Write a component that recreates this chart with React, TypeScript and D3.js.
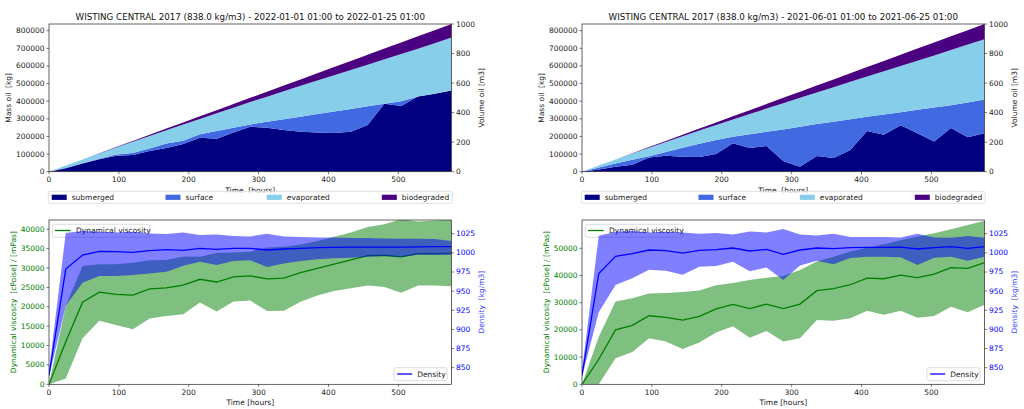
import React from "react";
import * as d3 from "d3";

const W = 1024;
const H = 409;
const FONT = "DejaVu Sans, sans-serif";

// time steps [hours]
const hours = [0, 24, 48, 72, 96, 120, 144, 168, 192, 216, 240, 264, 288, 312, 336, 360, 384, 408, 432, 456, 480, 504, 528, 552, 576];

// mass balance, January run [kg]
const janSubmerged = [0, 19000, 47000, 70000, 91000, 95000, 117000, 135000, 157000, 193000, 187000, 222000, 255000, 250000, 237000, 227000, 222000, 220000, 227000, 265000, 385000, 373000, 427000, 442000, 461000];
const janSurface = [0, 3000, 1000, 4000, 7000, 11000, 15000, 25000, 18000, 19000, 44000, 28000, 13000, 33000, 60000, 85000, 105000, 121000, 129000, 106000, 0, 27000, 0, 0, 0];
const janEvaporated = [0, 12700, 21100, 29300, 38700, 64100, 71000, 75400, 92300, 87300, 100200, 113100, 127000, 142900, 159800, 175800, 190700, 206600, 221500, 236400, 252300, 267300, 271200, 287100, 300000];
const janBiodegraded = [0, 200, 700, 1500, 3000, 4500, 6500, 9000, 12000, 15000, 18000, 21000, 24000, 28000, 32000, 36000, 41000, 46000, 51000, 56000, 61000, 66000, 70000, 74000, 77000];

// mass balance, June run [kg]
const junSubmerged = [0, 13000, 28000, 40000, 80000, 91000, 85000, 83000, 100000, 161000, 135000, 146000, 61000, 28000, 89000, 78000, 123000, 231000, 210000, 263000, 218000, 172000, 248000, 195000, 218000];
const junSurface = [0, 11000, 19000, 28000, 8000, 21000, 51000, 75000, 80000, 37000, 77000, 80000, 179000, 227000, 181000, 206000, 175000, 81000, 115000, 75000, 133000, 192000, 129000, 198000, 191000];
const junEvaporated = [0, 10600, 21800, 34800, 48200, 57100, 65500, 75400, 85300, 98300, 115200, 132100, 149000, 164900, 179800, 195800, 211700, 227600, 244500, 261400, 278300, 295300, 313200, 328100, 343000];
const junBiodegraded = [0, 300, 1000, 2000, 3500, 5500, 8000, 11000, 14000, 18000, 22000, 26000, 30000, 34000, 39000, 44000, 49000, 54000, 59000, 64000, 69000, 74000, 78000, 82000, 86000];

// viscosity [cPoise] and density [kg/m3], January run
const janViscMean = [0, 11000, 21200, 23800, 23200, 23000, 24600, 24900, 25600, 27100, 26400, 27700, 28000, 27200, 27400, 28800, 29900, 31000, 32100, 33200, 33300, 32900, 33700, 33700, 33800];
const janViscLow = [0, 1500, 11900, 16400, 15300, 14200, 17000, 17600, 18100, 21100, 18800, 21400, 21600, 18900, 19000, 21300, 22900, 24100, 24800, 25500, 25100, 23600, 25500, 25500, 25300];
const janViscHigh = [0, 20200, 30500, 31000, 31000, 31400, 32000, 32100, 33000, 32900, 33900, 34000, 34200, 35300, 35500, 36100, 37000, 38100, 39200, 40600, 41300, 42600, 42000, 42300, 42500];
const janDensMean = [840, 978.8, 997.1, 1001.9, 1001.5, 1000.6, 1002.8, 1004.1, 1003.2, 1005.8, 1004.5, 1005.8, 1005.8, 1003.7, 1005, 1005.8, 1006.7, 1007.2, 1007.4, 1007.6, 1007.6, 1007.4, 1007.8, 1008, 1008];
const janDensLow = [838, 931, 961, 969.7, 969.7, 971, 973, 975.4, 983.2, 988.4, 984, 989.3, 990.2, 981.5, 986.2, 989.3, 991.5, 992.8, 993.6, 995, 995.8, 994.5, 997.6, 997.1, 997.6];
const janDensHigh = [846, 1025.9, 1028.5, 1027.6, 1026.7, 1027.6, 1025.4, 1024.6, 1026.7, 1023.3, 1024.1, 1022, 1021.5, 1025, 1021.5, 1020.6, 1020.2, 1020.2, 1019.3, 1019.3, 1018.9, 1018.4, 1018.4, 1018, 1015.4];

// viscosity [cPoise] and density [kg/m3], June run
const junViscMean = [0, 9200, 20000, 21700, 25200, 24600, 23600, 25000, 27700, 29400, 27800, 29500, 27800, 29500, 34400, 35200, 36600, 39000, 38800, 40100, 39200, 40500, 42900, 42600, 44700];
const junViscLow = [0, 0, 9600, 11900, 16900, 15700, 13000, 15400, 19000, 21300, 17100, 19600, 15700, 16900, 23600, 23400, 24300, 27000, 25600, 27000, 24500, 25100, 28500, 26500, 29200];
const junViscHigh = [0, 17500, 30400, 31600, 33400, 33600, 33900, 34500, 36400, 37200, 38300, 39200, 39800, 42000, 45100, 46900, 48800, 50200, 51500, 53000, 54300, 55500, 57000, 58600, 60100];
const junDensMean = [840, 972.8, 995.4, 998.9, 1003.7, 1002.8, 999.7, 1003.2, 1004.1, 1006.3, 1002.4, 1004.5, 998, 1003.7, 1006.3, 1005.4, 1006.7, 1007.1, 1007.1, 1007.6, 1005, 1006.7, 1008, 1005.8, 1008];
const junDensLow = [838, 922.3, 958, 966.7, 978, 976.7, 971.4, 981.9, 982.8, 988.4, 975.8, 981, 964.5, 983.6, 989.7, 985, 993.2, 995, 995, 994.1, 984, 993.6, 995, 989.7, 995];
const junDensHigh = [846, 1022.4, 1027.6, 1028.5, 1026.7, 1027.6, 1026.7, 1025, 1025.9, 1024.1, 1028, 1026.7, 1031.1, 1024.1, 1022.8, 1025, 1020.7, 1020.7, 1020.7, 1020.2, 1025, 1020.2, 1019.8, 1022, 1019.8];

const layerNames = ["submerged", "surface", "evaporated", "biodegraded"];
const layerColors = ["#000080", "#4169e1", "#87ceeb", "#4b0082"];

const timeTicks = [0, 100, 200, 300, 400, 500];
const massTicks = [0, 100000, 200000, 300000, 400000, 500000, 600000, 700000, 800000];
const volumeTicks = [0, 200, 400, 600, 800, 1000];
const janViscTicks = [0, 5000, 10000, 15000, 20000, 25000, 30000, 35000, 40000];
const junViscTicks = [0, 10000, 20000, 30000, 40000, 50000];
const densTicks = [850, 875, 900, 925, 950, 975, 1000, 1025];

const TICK = 2.6;
const FS = 7.5;
const TXT = "#222";

function XAxis({ x, y0, ticks }) {
  return (
    <g>
      {ticks.map((t) => (
        <g key={t}>
          <line x1={x(t)} x2={x(t)} y1={y0} y2={y0 + TICK} stroke={TXT} strokeWidth={0.6} />
          <text x={x(t)} y={y0 + 8} fontSize={FS} textAnchor="middle" dominantBaseline="central" fill={TXT}>
            {t}
          </text>
        </g>
      ))}
    </g>
  );
}

function YAxis({ y, x0, ticks, side, color }) {
  const dir = side === "left" ? -1 : 1;
  return (
    <g>
      {ticks.map((t) => (
        <g key={t}>
          <line x1={x0} x2={x0 + dir * TICK} y1={y(t)} y2={y(t)} stroke={TXT} strokeWidth={0.6} />
          <text
            x={x0 + dir * 4.4}
            y={y(t)}
            fontSize={FS}
            textAnchor={side === "left" ? "end" : "start"}
            dominantBaseline="central"
            fill={color}
          >
            {t}
          </text>
        </g>
      ))}
    </g>
  );
}

function MassPanel({ left, title, layers, id }) {
  const right = left + 402.5;
  const top = 24;
  const bottom = 171.7;
  const x = d3.scaleLinear().domain([0, 576]).range([left, right]);
  const y = d3.scaleLinear().domain([0, 838000]).range([bottom, top]);
  const yVol = d3.scaleLinear().domain([0, 1000]).range([bottom, top]);

  const rows = hours.map((h, i) => {
    const r: any = { h };
    layerNames.forEach((k, j) => (r[k] = layers[j][i]));
    return r;
  });
  const series = d3.stack().keys(layerNames)(rows);
  const area = d3
    .area<any>()
    .x((d) => x(d.data.h))
    .y0((d) => y(d[0]))
    .y1((d) => y(d[1]));

  const legendOffsets = [2.7, 116.5, 217.8, 332.8];
  const midY = (top + bottom) / 2;

  return (
    <g>
      <text x={(left + right) / 2} y={20} fontSize={8.7} textAnchor="middle" fill="#111">
        {title}
      </text>
      <clipPath id={id}>
        <rect x={left} y={top} width={right - left} height={bottom - top} />
      </clipPath>
      <g clipPath={`url(#${id})`}>
        {series.map((s, i) => (
          <path key={i} d={area(s)} fill={layerColors[i]} />
        ))}
      </g>
      <rect x={left} y={top} width={right - left} height={bottom - top} fill="none" stroke="#222" strokeWidth={0.7} />
      <XAxis x={x} y0={bottom} ticks={timeTicks} />
      <YAxis y={y} x0={left} ticks={massTicks} side="left" color={TXT} />
      <YAxis y={yVol} x0={right} ticks={volumeTicks} side="right" color={TXT} />
      <text
        transform={`translate(${left - 40.5},${midY}) rotate(-90)`}
        fontSize={FS}
        textAnchor="middle"
        dominantBaseline="central"
        fill={TXT}
        style={{ whiteSpace: "pre" }}
      >
        {"Mass oil  [kg]"}
      </text>
      <text
        transform={`translate(${right + 29.5},${midY}) rotate(-90)`}
        fontSize={FS}
        textAnchor="middle"
        dominantBaseline="central"
        fill={TXT}
      >
        Volume oil [m3]
      </text>
      <text x={(left + right) / 2} y={bottom + 18.3} fontSize={FS} textAnchor="middle" dominantBaseline="central" fill={TXT} style={{ whiteSpace: "pre" }}>
        {"Time  [hours]"}
      </text>
      <rect x={left - 0.7} y={bottom + 19.6} width={right - left + 1.4} height={12} rx={2} fill="white" fillOpacity={0.8} stroke="#d0d0d0" strokeWidth={0.7} />
      {layerNames.map((n, i) => (
        <g key={n}>
          <rect x={left + legendOffsets[i]} y={bottom + 23} width={15} height={5.2} fill={layerColors[i]} />
          <text x={left + legendOffsets[i] + 20} y={bottom + 25.7} fontSize={FS} dominantBaseline="central" fill={TXT}>
            {n}
          </text>
        </g>
      ))}
    </g>
  );
}

function PropsPanel({ left, viscMax, viscTicks, vMean, vLow, vHigh, dMean, dLow, dHigh, id }) {
  const right = left + 402.5;
  const top = 220;
  const bottom = 384.3;
  const x = d3.scaleLinear().domain([0, 576]).range([left, right]);
  const yV = d3.scaleLinear().domain([0, viscMax]).range([bottom, top]);
  const yD = d3.scaleLinear().domain([828.3, 1042.9]).range([bottom, top]);
  const idx = hours.map((_, i) => i);

  const band = (lo, hi, sc) =>
    d3
      .area<number>()
      .x((i) => x(hours[i]))
      .y0((i) => sc(lo[i]))
      .y1((i) => sc(hi[i]))(idx);
  const line = (v, sc) =>
    d3
      .line<number>()
      .x((i) => x(hours[i]))
      .y((i) => sc(v[i]))(idx);

  const midY = (top + bottom) / 2;

  return (
    <g>
      <clipPath id={id}>
        <rect x={left} y={top} width={right - left} height={bottom - top} />
      </clipPath>
      <g clipPath={`url(#${id})`}>
        <path d={band(vLow, vHigh, yV)} fill="#008000" fillOpacity={0.5} />
        <path d={line(vMean, yV)} fill="none" stroke="#008000" strokeWidth={1.3} />
      </g>
      <rect x={left + 3.3} y={top + 4.3} width={97.7} height={13} rx={2} fill="white" fillOpacity={0.8} stroke="#d0d0d0" strokeWidth={0.7} />
      <line x1={left + 6} x2={left + 21.7} y1={top + 10.5} y2={top + 10.5} stroke="#008000" strokeWidth={1.3} />
      <text x={left + 27} y={top + 10.5} fontSize={FS} dominantBaseline="central" fill={TXT}>
        Dynamical viscosity
      </text>
      <g clipPath={`url(#${id})`}>
        <path d={band(dLow, dHigh, yD)} fill="#0000ff" fillOpacity={0.5} />
        <path d={line(dMean, yD)} fill="none" stroke="#0000ff" strokeWidth={1.3} />
      </g>
      <rect x={right - 57.7} y={bottom - 16.6} width={53.4} height={13} rx={2} fill="white" fillOpacity={0.8} stroke="#d0d0d0" strokeWidth={0.7} />
      <line x1={right - 54.3} x2={right - 39.3} y1={bottom - 10.3} y2={bottom - 10.3} stroke="#0000ff" strokeWidth={1.3} />
      <text x={right - 34.3} y={bottom - 10.3} fontSize={FS} dominantBaseline="central" fill={TXT}>
        Density
      </text>
      <rect x={left} y={top} width={right - left} height={bottom - top} fill="none" stroke="#222" strokeWidth={0.7} />
      <XAxis x={x} y0={bottom} ticks={timeTicks} />
      <YAxis y={yV} x0={left} ticks={viscTicks} side="left" color="#008000" />
      <YAxis y={yD} x0={right} ticks={densTicks} side="right" color="#0000ff" />
      <text
        transform={`translate(${left - 35.7},${midY}) rotate(-90)`}
        fontSize={FS}
        textAnchor="middle"
        dominantBaseline="central"
        fill="#008000"
        style={{ whiteSpace: "pre" }}
      >
        {"Dynamical viscosity  [cPoise] / [mPas]"}
      </text>
      <text
        transform={`translate(${right + 30},${midY}) rotate(-90)`}
        fontSize={FS}
        textAnchor="middle"
        dominantBaseline="central"
        fill="#4040ff"
        style={{ whiteSpace: "pre" }}
      >
        {"Density  [kg/m3]"}
      </text>
      <text x={(left + right) / 2} y={bottom + 18.4} fontSize={FS} textAnchor="middle" dominantBaseline="central" fill={TXT}>
        Time [hours]
      </text>
    </g>
  );
}

export default function App() {
  return (
    <svg
      width={W}
      height={H}
      viewBox={`0 0 ${W} ${H}`}
      style={{ position: "absolute", left: 0, top: 0, background: "white", fontFamily: FONT }}
    >
      <rect width={W} height={H} fill="white" />
      <MassPanel
        id="clipA"
        left={49}
        title="WISTING CENTRAL 2017 (838.0 kg/m3) - 2022-01-01 01:00 to 2022-01-25 01:00"
        layers={[janSubmerged, janSurface, janEvaporated, janBiodegraded]}
      />
      <MassPanel
        id="clipB"
        left={582}
        title="WISTING CENTRAL 2017 (838.0 kg/m3) - 2021-06-01 01:00 to 2021-06-25 01:00"
        layers={[junSubmerged, junSurface, junEvaporated, junBiodegraded]}
      />
      <PropsPanel
        id="clipC"
        left={49}
        viscMax={42400}
        viscTicks={janViscTicks}
        vMean={janViscMean}
        vLow={janViscLow}
        vHigh={janViscHigh}
        dMean={janDensMean}
        dLow={janDensLow}
        dHigh={janDensHigh}
      />
      <PropsPanel
        id="clipD"
        left={582}
        viscMax={60400}
        viscTicks={junViscTicks}
        vMean={junViscMean}
        vLow={junViscLow}
        vHigh={junViscHigh}
        dMean={junDensMean}
        dLow={junDensLow}
        dHigh={junDensHigh}
      />
    </svg>
  );
}
